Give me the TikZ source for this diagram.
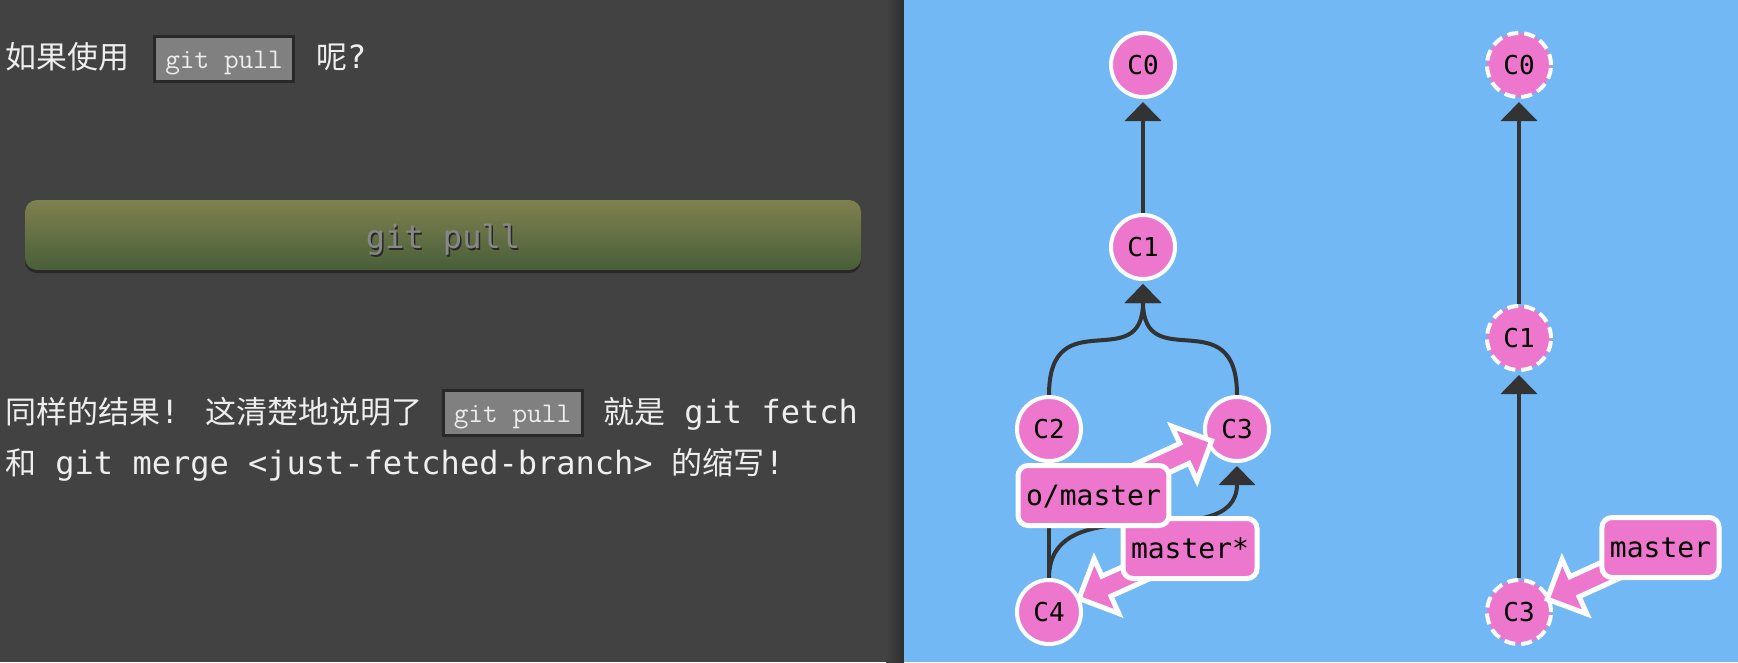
\documentclass[tikz,border=0pt]{standalone}
\usepackage{fontspec}
\usetikzlibrary{arrows.meta,calc}
\newfontfamily\cjkf{Noto Sans CJK SC}
\newfontfamily\monof{DejaVu Sans Mono}
\definecolor{leftbg}{RGB}{66,66,66}
\definecolor{leftshadow}{RGB}{46,46,46}
\definecolor{skyblue}{RGB}{114,184,244}
\definecolor{commitpink}{RGB}{238,119,206}
\definecolor{edgegray}{RGB}{51,51,51}
\definecolor{codefill}{RGB}{128,128,128}
\definecolor{codeborder}{RGB}{40,40,40}
\definecolor{codetext}{RGB}{236,236,236}
\definecolor{bodytext}{RGB}{238,238,238}
\definecolor{btntop}{RGB}{128,129,80}
\definecolor{btnbottom}{RGB}{72,94,56}
\definecolor{btntext}{RGB}{136,136,136}
\definecolor{btnshadow}{RGB}{40,40,40}
\pgfdeclarelayer{bglayer}
\pgfdeclarelayer{edgelayer}
\pgfdeclarelayer{arrowlayer}
\pgfdeclarelayer{labellayer}
\pgfsetlayers{bglayer,edgelayer,main,arrowlayer,labellayer}
\newcommand\fatarrow[2]{%
  \filldraw[labelarrow]
    ($(#1)!11pt!90:(#2)$) --
    ($(#2)!30pt!(#1)!11pt!-90:(#1)$) --
    ($(#2)!30pt!(#1)!30pt!-90:(#1)$) --
    (#2) --
    ($(#2)!30pt!(#1)!30pt!90:(#1)$) --
    ($(#2)!30pt!(#1)!11pt!90:(#1)$) --
    ($(#1)!11pt!-90:(#2)$) -- cycle;}
\tikzset{
  commit/.style={circle, fill=commitpink, draw=white, line width=4pt,
    minimum size=64pt, inner sep=0pt, text=black,
    font=\monof\fontsize{26pt}{30pt}\selectfont, text height=19pt, text depth=0pt},
  ghost/.style={commit, dash pattern=on 11pt off 6pt},
  edge/.style={draw=edgegray, line width=4pt,
    -{Triangle[width=36pt,length=19pt]}, shorten >=3pt},
  branch/.style={rectangle, rounded corners=10pt, fill=commitpink, draw=white,
    line width=5pt, inner xsep=8pt, minimum height=60pt, text=black,
    font=\monof\fontsize{28pt}{32pt}\selectfont, text height=20pt, text depth=0pt},
  labelarrow/.style={fill=commitpink, draw=white, line width=5pt},
  codebox/.style={rectangle, fill=codefill, draw=codeborder, line width=3pt,
    minimum width=139pt, minimum height=45pt, inner sep=0pt, text=codetext,
    font=\ttfamily\fontsize{28.5pt}{32pt}\selectfont, text height=19pt, text depth=0pt},
  cjktext/.style={anchor=base west, inner sep=0pt, text=bodytext,
    font=\cjkf\fontsize{31pt}{36pt}\selectfont},
  body/.style={anchor=base west, inner sep=0pt, text=bodytext,
    font=\monof\fontsize{32pt}{36pt}\selectfont},
  btnlabel/.style={anchor=base, inner sep=0pt, text=btntext,
    font=\monof\fontsize{32pt}{36pt}\selectfont},
  button/.style={rectangle, rounded corners=12pt, minimum width=836pt,
    minimum height=70pt, inner sep=0pt, top color=btntop, bottom color=btnbottom},
}
\newcommand\cjkpart[1]{{\cjkf\fontsize{31pt}{36pt}\selectfont #1}}
\begin{document}
\begin{tikzpicture}[x=1pt, y=-1pt]
\useasboundingbox (0,0) rectangle (1738,662);
\begin{pgfonlayer}{bglayer}
  \fill[leftbg] (0,0) rectangle (904,662);
  \shade[left color=leftbg, right color=leftshadow] (886,0) rectangle (904,662);
  \fill[skyblue] (904,0) rectangle (1738,662);
\end{pgfonlayer}

% left panel texts
\node[body] (q1) at (5,68) {\cjkpart{如果使用}};
\node[codebox] (q2) at (224,58.5) {git pull};
\node[body] (q3) at (316,68) {\cjkpart{呢}?};

\fill[btnshadow, rounded corners=12pt] (25,203) rectangle (861,273);
\node[button] (btn) at (443,235) {};
\node[btnlabel, text=btnshadow] (btnsh) at (444.5,250) {git pull};
\node[btnlabel] (btntx) at (443,248) {git pull};

\node[body] (l1a) at (5,423) {\cjkpart{同样的结果}! \cjkpart{这清楚地说明了}};
\node[codebox] (l1b) at (512.5,413) {git pull};
\node[body] (l1c) at (603,423) {\cjkpart{就是} git fetch};
\node[body] (l2) at (5,474) {\cjkpart{和} git merge <just-fetched-branch> \cjkpart{的缩写}!};

% left graph
\node[commit] (C0) at (1143,65) {C0};
\node[commit] (C1) at (1143,247) {C1};
\node[commit] (C2) at (1049,429) {C2};
\node[commit] (C3) at (1237,429) {C3};
\node[commit] (C4) at (1049,612) {C4};
% right graph
\node[ghost] (R0) at (1519,65) {C0};
\node[ghost] (R1) at (1519,338) {C1};
\node[ghost] (R3) at (1519,612) {C3};

\begin{pgfonlayer}{edgelayer}
  \draw[edge] (C1.north) -- (C0.south);
  \draw[edge] (C2.north) .. controls +(0,-96) and +(0,96) .. (C1.south);
  \draw[edge] (C3.north) .. controls +(0,-96) and +(0,96) .. (C1.south);
  \draw[edge] (C4.north) -- (C2.south);
  \draw[edge] (C4.north) .. controls +(0,-96) and +(0,96) .. (C3.south);
  \draw[edge] (R1.north) -- (R0.south);
  \draw[edge] (R3.north) -- (R1.south);
\end{pgfonlayer}

\begin{pgfonlayer}{labellayer}
  \node[branch] (ms) at (1190,548.5) {master*};
  \node[branch] (om) at (1093.5,495.5) {o/master};
  \node[branch] (mr) at (1660.5,547.5) {master};
\end{pgfonlayer}

\coordinate (t1) at ($(C3)!28pt!(om)$);
\coordinate (t2) at ($(C4)!33pt!(ms)$);
\coordinate (t3) at ($(R3)!31pt!(mr)$);
\begin{pgfonlayer}{arrowlayer}
  \fatarrow{ms}{t2}
  \fatarrow{om}{t1}
  \fatarrow{mr}{t3}
\end{pgfonlayer}
\end{tikzpicture}
\end{document}
